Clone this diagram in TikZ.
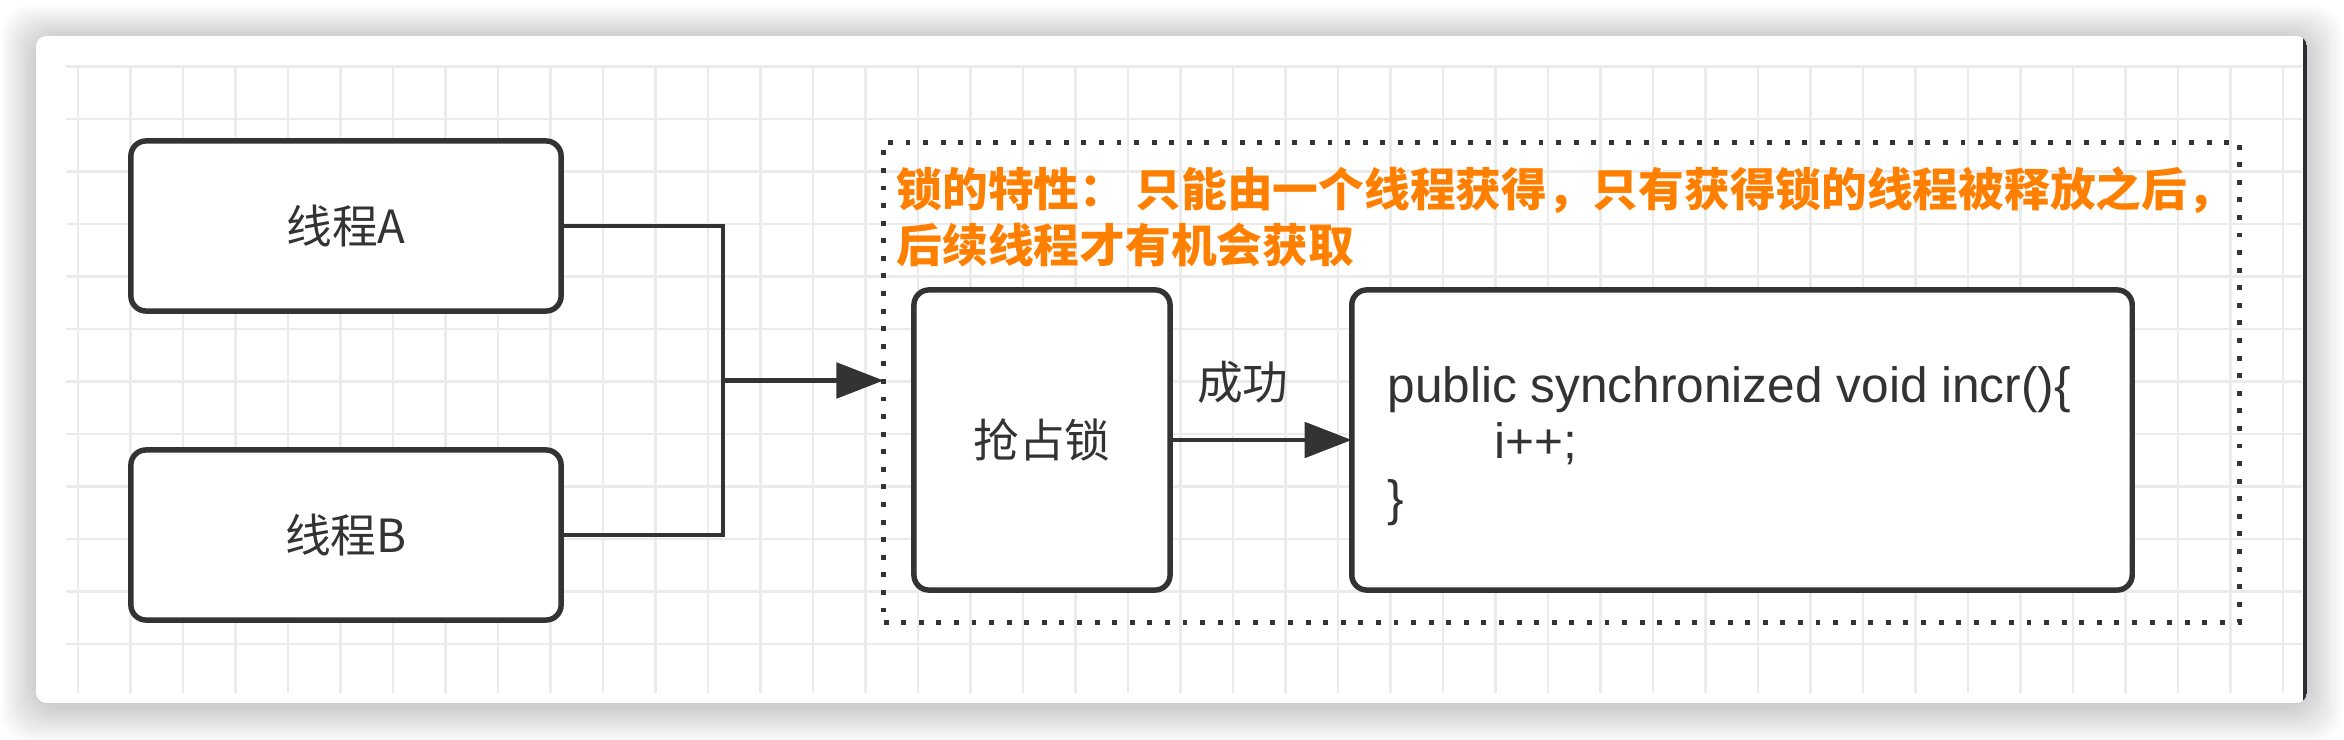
\documentclass[tikz,border=0pt]{standalone}
\usepackage{fontspec}
\setmainfont{Liberation Sans}
\newfontfamily\cjkfont{Noto Sans CJK SC}
\usetikzlibrary{arrows.meta}

\definecolor{inkgray}{HTML}{333333}
\definecolor{gridgray}{HTML}{EBEBEB}
\definecolor{noteorange}{HTML}{FF8000}
\definecolor{edgedark}{HTML}{2B2D33}

\begin{document}
\begin{tikzpicture}[x = 0.01cm, y = -0.01cm, > = {Triangle[length = 13.4pt, width = 10pt]},
	box/.style = {draw = inkgray, line width = 1.55pt, rounded corners = 4.3pt, fill = white, inner sep = 0pt, outer sep = 0pt, text = inkgray, font = \cjkfont\fontsize{13pt}{16pt}\selectfont},
	wire/.style = {draw = inkgray, line width = 1.35pt},
	gridline/.style = {gridgray, line width = 0.6pt}]

	% Page and card

	\useasboundingbox (0, 0) rectangle (2344, 740);
	\fill [white] (0, 0) rectangle (2344, 740);
	\foreach \s in {1, ..., 16}
		\fill [black, opacity = 0.012, rounded corners = 8pt] (36 - 2.2 * \s, 38 - 2 * \s) rectangle (2307 + 2.2 * \s, 707 + 2.2 * \s);
	\begin{scope}
		\clip [rounded corners = 3pt] (36, 36) rectangle (2307, 703);
		\fill [white] (36, 36) rectangle (2307, 703);
		\fill [edgedark] (2303, 36) rectangle (2307, 703);
	\end{scope}

	% Grid

	\foreach \x in {0, ..., 42}
		\draw [gridline] (78 + 52.5 * \x, 65) -- (78 + 52.5 * \x, 693);
	\foreach \y in {0, ..., 11}
		\draw [gridline] (66, 66.5 + 52.5 * \y) -- (2302, 66.5 + 52.5 * \y);

	% Threads

	\node [box, minimum width = 4.3cm, minimum height = 1.7cm] (thrA) at (346, 226) {线程A};
	\node [box, minimum width = 4.3cm, minimum height = 1.7cm] (thrB) at (346, 535) {线程B};

	% Lock area

	\node [draw = inkgray, line width = 1.4pt, dash pattern = on 1.4pt off 3.6pt, minimum width = 13.55cm, minimum height = 4.8cm, inner sep = 0pt, outer sep = 0pt] (lockzone) at (1561.5, 382.25) {};
	\node [anchor = north west, inner sep = 0pt, align = left, text = noteorange, font = \cjkfont\bfseries\fontsize{13pt}{15.9pt}\selectfont] (note) at (896, 166) {锁的特性： 只能由一个线程获得，只有获得锁的线程被释放之后，\\后续线程才有机会获取};
	\node [box, minimum width = 2.56cm, minimum height = 3cm] (grab) at (1042, 440) {抢占锁};
	\node [box, minimum width = 7.8cm, minimum height = 3cm] (code) at (1742, 440) {};
	\node [anchor = west, inner sep = 0pt, align = left, text = inkgray, font = \fontsize{14.1pt}{16pt}\selectfont] (body) at ([xshift = 0.35cm, yshift = -0.06cm] code.west) {public synchronized void incr()\{\\\hspace*{1.07cm}i++;\\\}};

	% Connectors

	\coordinate (join) at (723, 380.5);
	\draw [wire] (thrA.east) -| (join) |- (thrB.east);
	\draw [wire, ->] (join) -- (join -| lockzone.west);
	\draw [wire, ->] (grab) -- (code) node [pos = 0.4, yshift = 0.58cm, text = inkgray, font = \cjkfont\fontsize{13pt}{16pt}\selectfont] (okLabel) {成功};

\end{tikzpicture}
\end{document}
